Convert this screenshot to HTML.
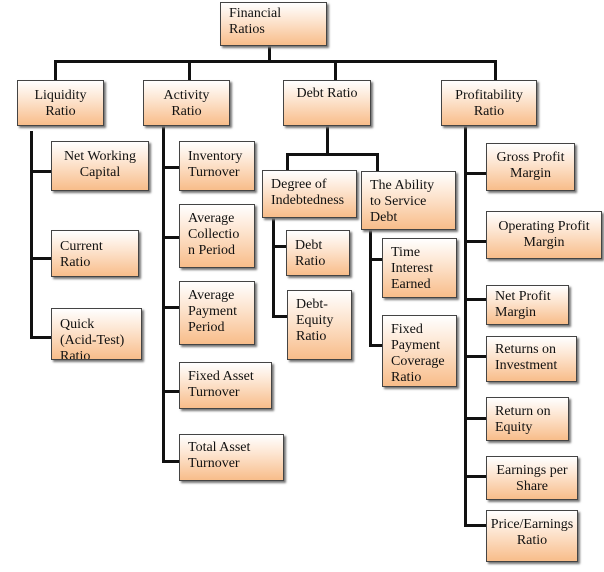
<!DOCTYPE html>
<html><head><style>
body{margin:0;width:604px;height:572px;background:#fff;position:relative;overflow:hidden;font-family:"Liberation Serif",serif;font-size:14px;color:#111}
.b{position:absolute;box-sizing:border-box;border:1px solid #444;background:linear-gradient(#fff 0%,#fde6d2 40%,#f8bd8a 100%);box-shadow:2px 2px 2px #777;line-height:16px;padding:3px 8px;overflow:hidden}
.c{text-align:center}
.l{position:absolute;background:#111}
</style></head><body>
<div class="l" style="left:268px;top:44px;width:3px;height:18px"></div>
<div class="l" style="left:54px;top:60px;width:443px;height:3px"></div>
<div class="l" style="left:54px;top:60px;width:3px;height:21px"></div>
<div class="l" style="left:188px;top:60px;width:3px;height:21px"></div>
<div class="l" style="left:334px;top:60px;width:3px;height:21px"></div>
<div class="l" style="left:494px;top:60px;width:3px;height:21px"></div>
<div class="l" style="left:30px;top:131px;width:3px;height:208px"></div>
<div class="l" style="left:30px;top:170px;width:22px;height:3px"></div>
<div class="l" style="left:30px;top:257px;width:22px;height:3px"></div>
<div class="l" style="left:30px;top:336px;width:22px;height:3px"></div>
<div class="l" style="left:162px;top:126px;width:3px;height:337px"></div>
<div class="l" style="left:162px;top:166px;width:18px;height:3px"></div>
<div class="l" style="left:162px;top:236px;width:18px;height:3px"></div>
<div class="l" style="left:162px;top:306px;width:18px;height:3px"></div>
<div class="l" style="left:162px;top:390px;width:18px;height:3px"></div>
<div class="l" style="left:162px;top:460px;width:18px;height:3px"></div>
<div class="l" style="left:326px;top:126px;width:3px;height:29px"></div>
<div class="l" style="left:286px;top:153px;width:92px;height:3px"></div>
<div class="l" style="left:286px;top:153px;width:3px;height:18px"></div>
<div class="l" style="left:376px;top:153px;width:3px;height:19px"></div>
<div class="l" style="left:272px;top:218px;width:3px;height:100px"></div>
<div class="l" style="left:272px;top:245px;width:15px;height:3px"></div>
<div class="l" style="left:272px;top:315px;width:15px;height:3px"></div>
<div class="l" style="left:369px;top:230px;width:3px;height:117px"></div>
<div class="l" style="left:369px;top:258px;width:14px;height:3px"></div>
<div class="l" style="left:369px;top:344px;width:14px;height:3px"></div>
<div class="l" style="left:464px;top:126px;width:3px;height:401px"></div>
<div class="l" style="left:464px;top:172px;width:23px;height:3px"></div>
<div class="l" style="left:464px;top:240px;width:23px;height:3px"></div>
<div class="l" style="left:464px;top:298px;width:23px;height:3px"></div>
<div class="l" style="left:464px;top:355px;width:23px;height:3px"></div>
<div class="l" style="left:464px;top:417px;width:23px;height:3px"></div>
<div class="l" style="left:464px;top:475px;width:23px;height:3px"></div>
<div class="l" style="left:464px;top:524px;width:23px;height:3px"></div>
<div class="b" style="left:220px;top:2px;width:107px;height:44px">Financial<br>Ratios</div>
<div class="b c" style="left:17px;top:80px;width:87px;height:46px;padding-top:7px">Liquidity<br>Ratio</div>
<div class="b c" style="left:143px;top:80px;width:87px;height:46px;padding-top:7px">Activity<br>Ratio</div>
<div class="b c" style="left:283px;top:80px;width:88px;height:46px;padding-top:5px">Debt Ratio</div>
<div class="b c" style="left:441px;top:80px;width:96px;height:46px;padding-top:7px">Profitability<br>Ratio</div>
<div class="b c" style="left:51px;top:141px;width:98px;height:50px;padding-top:7px">Net Working<br>Capital</div>
<div class="b" style="left:51px;top:230px;width:88px;height:47px;padding-top:8px">Current<br>Ratio</div>
<div class="b" style="left:51px;top:308px;width:91px;height:52px;padding-top:8px">Quick<br>(Acid-Test)<br>Ratio</div>
<div class="b" style="left:179px;top:141px;width:76px;height:50px;padding-top:7px">Inventory<br>Turnover</div>
<div class="b" style="left:179px;top:204px;width:76px;height:64px;padding-top:6px">Average<br>Collectio<br>n Period</div>
<div class="b" style="left:179px;top:281px;width:76px;height:64px;padding-top:6px">Average<br>Payment<br>Period</div>
<div class="b" style="left:179px;top:362px;width:93px;height:47px;padding-top:6px">Fixed Asset<br>Turnover</div>
<div class="b" style="left:179px;top:434px;width:105px;height:47px;padding-top:5px">Total Asset<br>Turnover</div>
<div class="b" style="left:262px;top:170px;width:95px;height:48px;padding-top:6px">Degree of<br>Indebtedness</div>
<div class="b" style="left:361px;top:171px;width:95px;height:59px;padding-top:6px">The Ability<br>to Service<br>Debt</div>
<div class="b" style="left:286px;top:230px;width:64px;height:46px;padding-top:7px">Debt<br>Ratio</div>
<div class="b" style="left:287px;top:290px;width:65px;height:70px;padding-top:6px">Debt-<br>Equity<br>Ratio</div>
<div class="b" style="left:382px;top:238px;width:75px;height:60px;padding-top:6px">Time<br>Interest<br>Earned</div>
<div class="b" style="left:382px;top:315px;width:75px;height:72px;padding-top:6px">Fixed<br>Payment<br>Coverage<br>Ratio</div>
<div class="b c" style="left:486px;top:143px;width:89px;height:48px;padding-top:6px">Gross Profit<br>Margin</div>
<div class="b c" style="left:486px;top:211px;width:116px;height:48px;padding-top:7px">Operating Profit<br>Margin</div>
<div class="b" style="left:486px;top:285px;width:83px;height:40px;padding-top:3px">Net Profit<br>Margin</div>
<div class="b" style="left:486px;top:336px;width:91px;height:46px;padding-top:5px">Returns on<br>Investment</div>
<div class="b" style="left:486px;top:397px;width:83px;height:44px;padding-top:6px">Return on<br>Equity</div>
<div class="b c" style="left:486px;top:456px;width:92px;height:44px;padding-top:6px">Earnings per<br>Share</div>
<div class="b c" style="left:486px;top:510px;width:92px;height:52px;padding:6px 2px 0 2px">Price/Earnings<br>Ratio</div>
</body></html>
